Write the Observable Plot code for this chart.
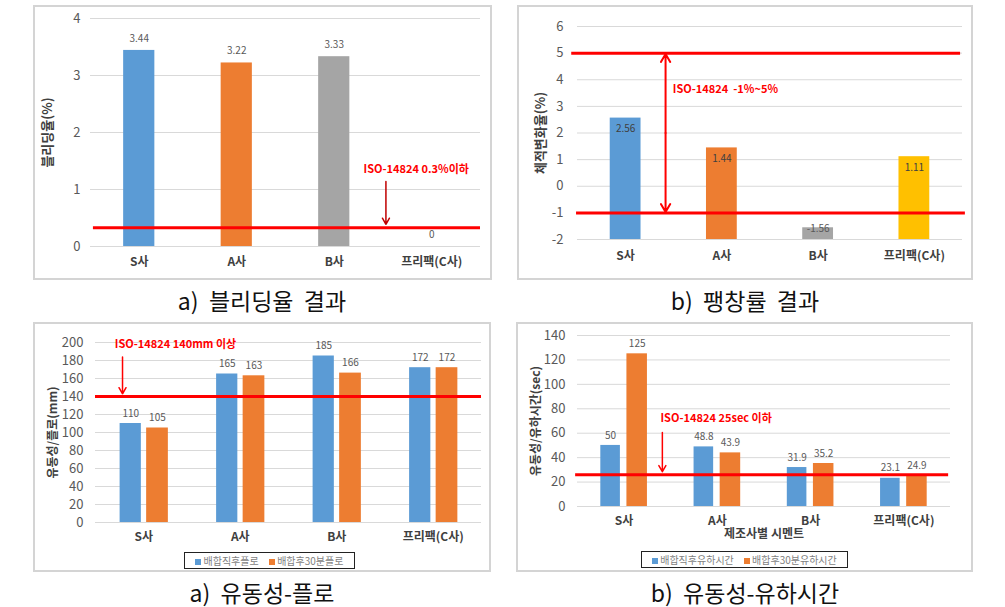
<!DOCTYPE html>
<html><head><meta charset="utf-8">
<script src="https://cdn.jsdelivr.net/npm/d3@7"></script>
<script src="https://cdn.jsdelivr.net/npm/@observablehq/plot@0.6"></script>
<style>
body{margin:0;background:#fff;width:1005px;height:607px;position:relative;overflow:hidden;font-family:"Noto Sans CJK KR",sans-serif;}
.chart{position:absolute}
.chart svg{display:block;overflow:visible}
.box{position:absolute;border:2px solid #d4d4d4;box-sizing:border-box;pointer-events:none}
.cap{position:absolute;font-size:23px;color:#111;transform:translate(-50%,-50%);white-space:pre;line-height:1}
.legend{position:absolute;border:1px solid #222;font-size:10px;color:#7f7f7f;display:flex;align-items:center;justify-content:space-evenly;box-sizing:border-box;white-space:nowrap;line-height:1}
.sw{display:inline-block;width:6px;height:6px;margin-right:2px;vertical-align:middle}
</style></head><body>
<script>
// ---------- data ----------
const categories = ["S사", "A사", "B사", "프리팩(C사)"];
const catIdx = [0, 1, 2, 3];

const bleedingRate = [3.44, 3.22, 3.33, 0];
const bleedingLimit = 0.33;          // drawn level of "0.3% 이하" line
const bleedingNote = "ISO-14824 0.3%이하";

const expansionRate = [2.56, 1.44, -1.56, 1.11];
const expansionLimits = [5, -1];
const expansionNote = "ISO-14824  -1%~5%";

const flowInitial = [110, 165, 185, 172];
const flow30 = [105, 163, 166, 172];
const flowLimit = 140;
const flowNote = "ISO-14824 140mm 이상";
const flowSeries = ["배합직후플로", "배합후30분플로"];

const timeInitial = [50, 48.8, 31.9, 23.1];
const time30 = [125, 43.9, 35.2, 24.9];
const timeLimit = 26;                // drawn level of "25sec 이하" line
const timeNote = "ISO-14824 25sec 이하";
const timeSeries = ["배합직후유하시간", "배합후30분유하시간"];

const captions = ["a)  블리딩율  결과", "b)  팽창률  결과", "a)  유동성-플로", "b)  유동성-유하시간"];

// ---------- style ----------
const FONT = "'Noto Sans CJK KR', sans-serif";
const BLUE = "#5b9bd5", ORANGE = "#ed7d31", GRAY = "#a5a5a5", YELLOW = "#ffc000";
const singleColors = [BLUE, ORANGE, GRAY, YELLOW];
const RED = "#ff0000", GRID = "#d9d9d9", TICK = "#595959", CAT = "#404040";
const fmt = d => String(d);

function place(svg, left, top) {
  const div = document.createElement("div");
  div.className = "chart";
  div.style.left = left + "px"; div.style.top = top + "px";
  div.appendChild(svg);
  document.body.appendChild(div);
}
function box(left, top, w, h) {
  const d = document.createElement("div");
  d.className = "box";
  Object.assign(d.style, {left: left + "px", top: top + "px", width: w + "px", height: h + "px"});
  document.body.appendChild(d);
}
function caption(text, x, y) {
  const d = document.createElement("div");
  d.className = "cap"; d.textContent = text;
  d.style.left = x + "px"; d.style.top = y + "px";
  document.body.appendChild(d);
}
function legend(names, left, top, w, h) {
  const d = document.createElement("div");
  d.className = "legend";
  Object.assign(d.style, {left: left + "px", top: top + "px", width: w + "px", height: h + "px"});
  [BLUE, ORANGE].forEach((c, i) => {
    const s = document.createElement("span");
    s.innerHTML = `<span class="sw" style="background:${c}"></span>${names[i]}`;
    d.appendChild(s);
  });
  document.body.appendChild(d);
}
const baseStyle = {fontFamily: FONT, background: "transparent", overflow: "visible"};
const yTitle = (t, dx, size) => Plot.text([t], {frameAnchor: "left", textAnchor: "middle", rotate: -90, dx, text: d => d, fontWeight: "bold", fontSize: size, fill: CAT});

// ---------- panel a: bleeding ----------
place(Plot.plot({
  width: 459, height: 275,
  marginLeft: 57, marginRight: 12, marginTop: 13, marginBottom: 34,
  x: {domain: [-0.5, 3.5]}, y: {domain: [0, 4]},
  style: baseStyle,
  marks: [
    Plot.gridY([0, 1, 2, 3, 4], {stroke: GRID, strokeOpacity: 1}),
    Plot.axisY([0, 1, 2, 3, 4], {tickSize: 0, tickPadding: 10, fontSize: 13, fill: TICK, label: null, tickFormat: fmt}),
    Plot.axisX(catIdx, {tickSize: 0, tickPadding: 11, tickFormat: i => categories[i], fontSize: 12, fontWeight: "bold", fill: CAT, label: null}),
    Plot.rectY(catIdx, {x1: i => i - 0.16, x2: i => i + 0.16, y1: 0, y2: i => bleedingRate[i], fill: i => singleColors[i]}),
    Plot.text(catIdx, {x: i => i, y: i => bleedingRate[i], text: i => fmt(bleedingRate[i]), dy: -12, fontSize: 10, fill: TICK}),
    Plot.ruleY([bleedingLimit], {x1: -0.47, x2: 3.5, stroke: RED, strokeWidth: 3}),
    Plot.arrow([0], {x1: 2.53, x2: 2.53, y1: 1.14, y2: 0.39, stroke: "#c00000", strokeWidth: 1.5, headLength: 7}),
    Plot.text([bleedingNote], {x: 2.3, y: 1.36, text: d => d, textAnchor: "start", fill: RED, fontWeight: "bold", fontSize: 11}),
    yTitle("블리딩율(%)", -43, 13)
  ]
}), 33, 5);
box(33, 5, 459, 275);
caption(captions[0], 262, 300);

// ---------- panel b: expansion ----------
place(Plot.plot({
  width: 456, height: 275,
  marginLeft: 60, marginRight: 11, marginTop: 21, marginBottom: 41,
  x: {domain: [-0.5, 3.5]}, y: {domain: [-2, 6]},
  style: baseStyle,
  marks: [
    Plot.gridY(d3.range(-2, 7), {stroke: GRID, strokeOpacity: 1}),
    Plot.axisY(d3.range(-2, 7), {tickSize: 0, tickPadding: 14, fontSize: 13, fill: TICK, label: null, tickFormat: fmt}),
    Plot.axisX(catIdx, {tickSize: 0, tickPadding: 12, tickFormat: i => categories[i], fontSize: 12, fontWeight: "bold", fill: CAT, label: null}),
    Plot.rectY(catIdx, {x1: i => i - 0.16, x2: i => i + 0.16, y1: -2, y2: i => expansionRate[i], fill: i => singleColors[i]}),
    Plot.text(catIdx.filter(i => expansionRate[i] > -1), {x: i => i, y: i => expansionRate[i], text: i => fmt(expansionRate[i]), dy: 11, fontSize: 10, fill: CAT}),
    Plot.text(catIdx.filter(i => expansionRate[i] <= -1), {x: i => i, y: i => expansionRate[i], text: i => fmt(expansionRate[i]), dy: 1, fontSize: 10, fill: "#595959"}),
    Plot.ruleY([expansionLimits[0]], {x1: -0.56, x2: 3.48, stroke: RED, strokeWidth: 3}),
    Plot.ruleY([expansionLimits[1]], {x1: -0.51, x2: 3.53, stroke: RED, strokeWidth: 3}),
    Plot.arrow(expansionLimits, {x1: 0.415, x2: 0.415, y1: 2, y2: d => d > 0 ? d - 0.03 : d + 0.03, stroke: RED, strokeWidth: 2, headLength: 7}),
    Plot.text([expansionNote], {x: 0.49, y: 3.63, text: d => d, textAnchor: "start", fill: RED, fontWeight: "bold", fontSize: 11}),
    yTitle("체적변화율(%)", -37, 13)
  ]
}), 517, 5);
box(517, 5, 456, 275);
caption(captions[1], 745, 300);

// ---------- panel c: flow ----------
place(Plot.plot({
  width: 458, height: 250,
  marginLeft: 62, marginRight: 10, marginTop: 20, marginBottom: 50,
  x: {domain: [-0.5, 3.5]}, y: {domain: [0, 200]},
  style: baseStyle,
  marks: [
    Plot.gridY(d3.range(0, 201, 20), {stroke: GRID, strokeOpacity: 1}),
    Plot.axisY(d3.range(0, 201, 20), {tickSize: 0, tickPadding: 12, fontSize: 13, fill: TICK, label: null, tickFormat: fmt}),
    Plot.axisX(catIdx, {tickSize: 0, tickPadding: 10, tickFormat: i => categories[i], fontSize: 12, fontWeight: "bold", fill: CAT, label: null}),
    Plot.rectY(catIdx, {x1: i => i - 0.245, x2: i => i - 0.025, y1: 0, y2: i => flowInitial[i], fill: BLUE}),
    Plot.rectY(catIdx, {x1: i => i + 0.03, x2: i => i + 0.255, y1: 0, y2: i => flow30[i], fill: ORANGE}),
    Plot.text(catIdx, {x: i => i - 0.135, y: i => flowInitial[i], text: i => fmt(flowInitial[i]), dy: -10, fontSize: 10, fill: TICK}),
    Plot.text(catIdx, {x: i => i + 0.142, y: i => flow30[i], text: i => fmt(flow30[i]), dy: -10, fontSize: 10, fill: TICK}),
    Plot.ruleY([flowLimit], {x1: -0.5, x2: 3.5, stroke: RED, strokeWidth: 3}),
    Plot.arrow([0], {x1: -0.22, x2: -0.22, y1: 184, y2: 143, stroke: RED, strokeWidth: 1.5, headLength: 7}),
    Plot.text([flowNote], {x: -0.3, y: 198, text: d => d, textAnchor: "start", fill: RED, fontWeight: "bold", fontSize: 11}),
    yTitle("유동성/플로(mm)", -42, 12)
  ]
}), 33, 322);
box(33, 322, 458, 250);
legend(flowSeries, 184, 552, 171, 17);
caption(captions[2], 262, 592);

// ---------- panel d: flow time ----------
place(Plot.plot({
  width: 457, height: 250,
  marginLeft: 61, marginRight: 23, marginTop: 13, marginBottom: 66,
  x: {domain: [-0.5, 3.5]}, y: {domain: [0, 140]},
  style: baseStyle,
  marks: [
    Plot.gridY(d3.range(0, 141, 20), {stroke: GRID, strokeOpacity: 1}),
    Plot.axisY(d3.range(0, 141, 20), {tickSize: 0, tickPadding: 12, fontSize: 13, fill: TICK, label: null, tickFormat: fmt}),
    Plot.axisX(catIdx, {tickSize: 0, tickPadding: 10, tickFormat: i => categories[i], fontSize: 12, fontWeight: "bold", fill: CAT, label: null}),
    Plot.rectY(catIdx, {x1: i => i - 0.25, x2: i => i - 0.04, y1: 0, y2: i => timeInitial[i], fill: BLUE}),
    Plot.rectY(catIdx, {x1: i => i + 0.03, x2: i => i + 0.25, y1: 0, y2: i => time30[i], fill: ORANGE}),
    Plot.text(catIdx, {x: i => i - 0.145, y: i => timeInitial[i], text: i => fmt(timeInitial[i]), dy: -10, fontSize: 10, fill: TICK}),
    Plot.text(catIdx, {x: i => i + 0.14, y: i => time30[i], text: i => fmt(time30[i]), dy: -10, fontSize: 10, fill: TICK}),
    Plot.ruleY([timeLimit], {x1: -0.52, x2: 3.48, stroke: RED, strokeWidth: 3}),
    Plot.arrow([0], {x1: 0.41, x2: 0.41, y1: 60.5, y2: 28.5, stroke: RED, strokeWidth: 1.5, headLength: 7}),
    Plot.text([timeNote], {x: 0.39, y: 72, text: d => d, textAnchor: "start", fill: RED, fontWeight: "bold", fontSize: 11}),
    Plot.text(["제조사별 시멘트"], {x: 1.5, frameAnchor: "bottom", dy: 31, text: d => d, fontWeight: "bold", fontSize: 12, fill: CAT}),
    yTitle("유동성/유하시간(sec)", -41, 12)
  ]
}), 516, 322);
box(516, 322, 457, 250);
legend(timeSeries, 641, 551, 207, 17);
caption(captions[3], 745, 592);
</script>
</body></html>
